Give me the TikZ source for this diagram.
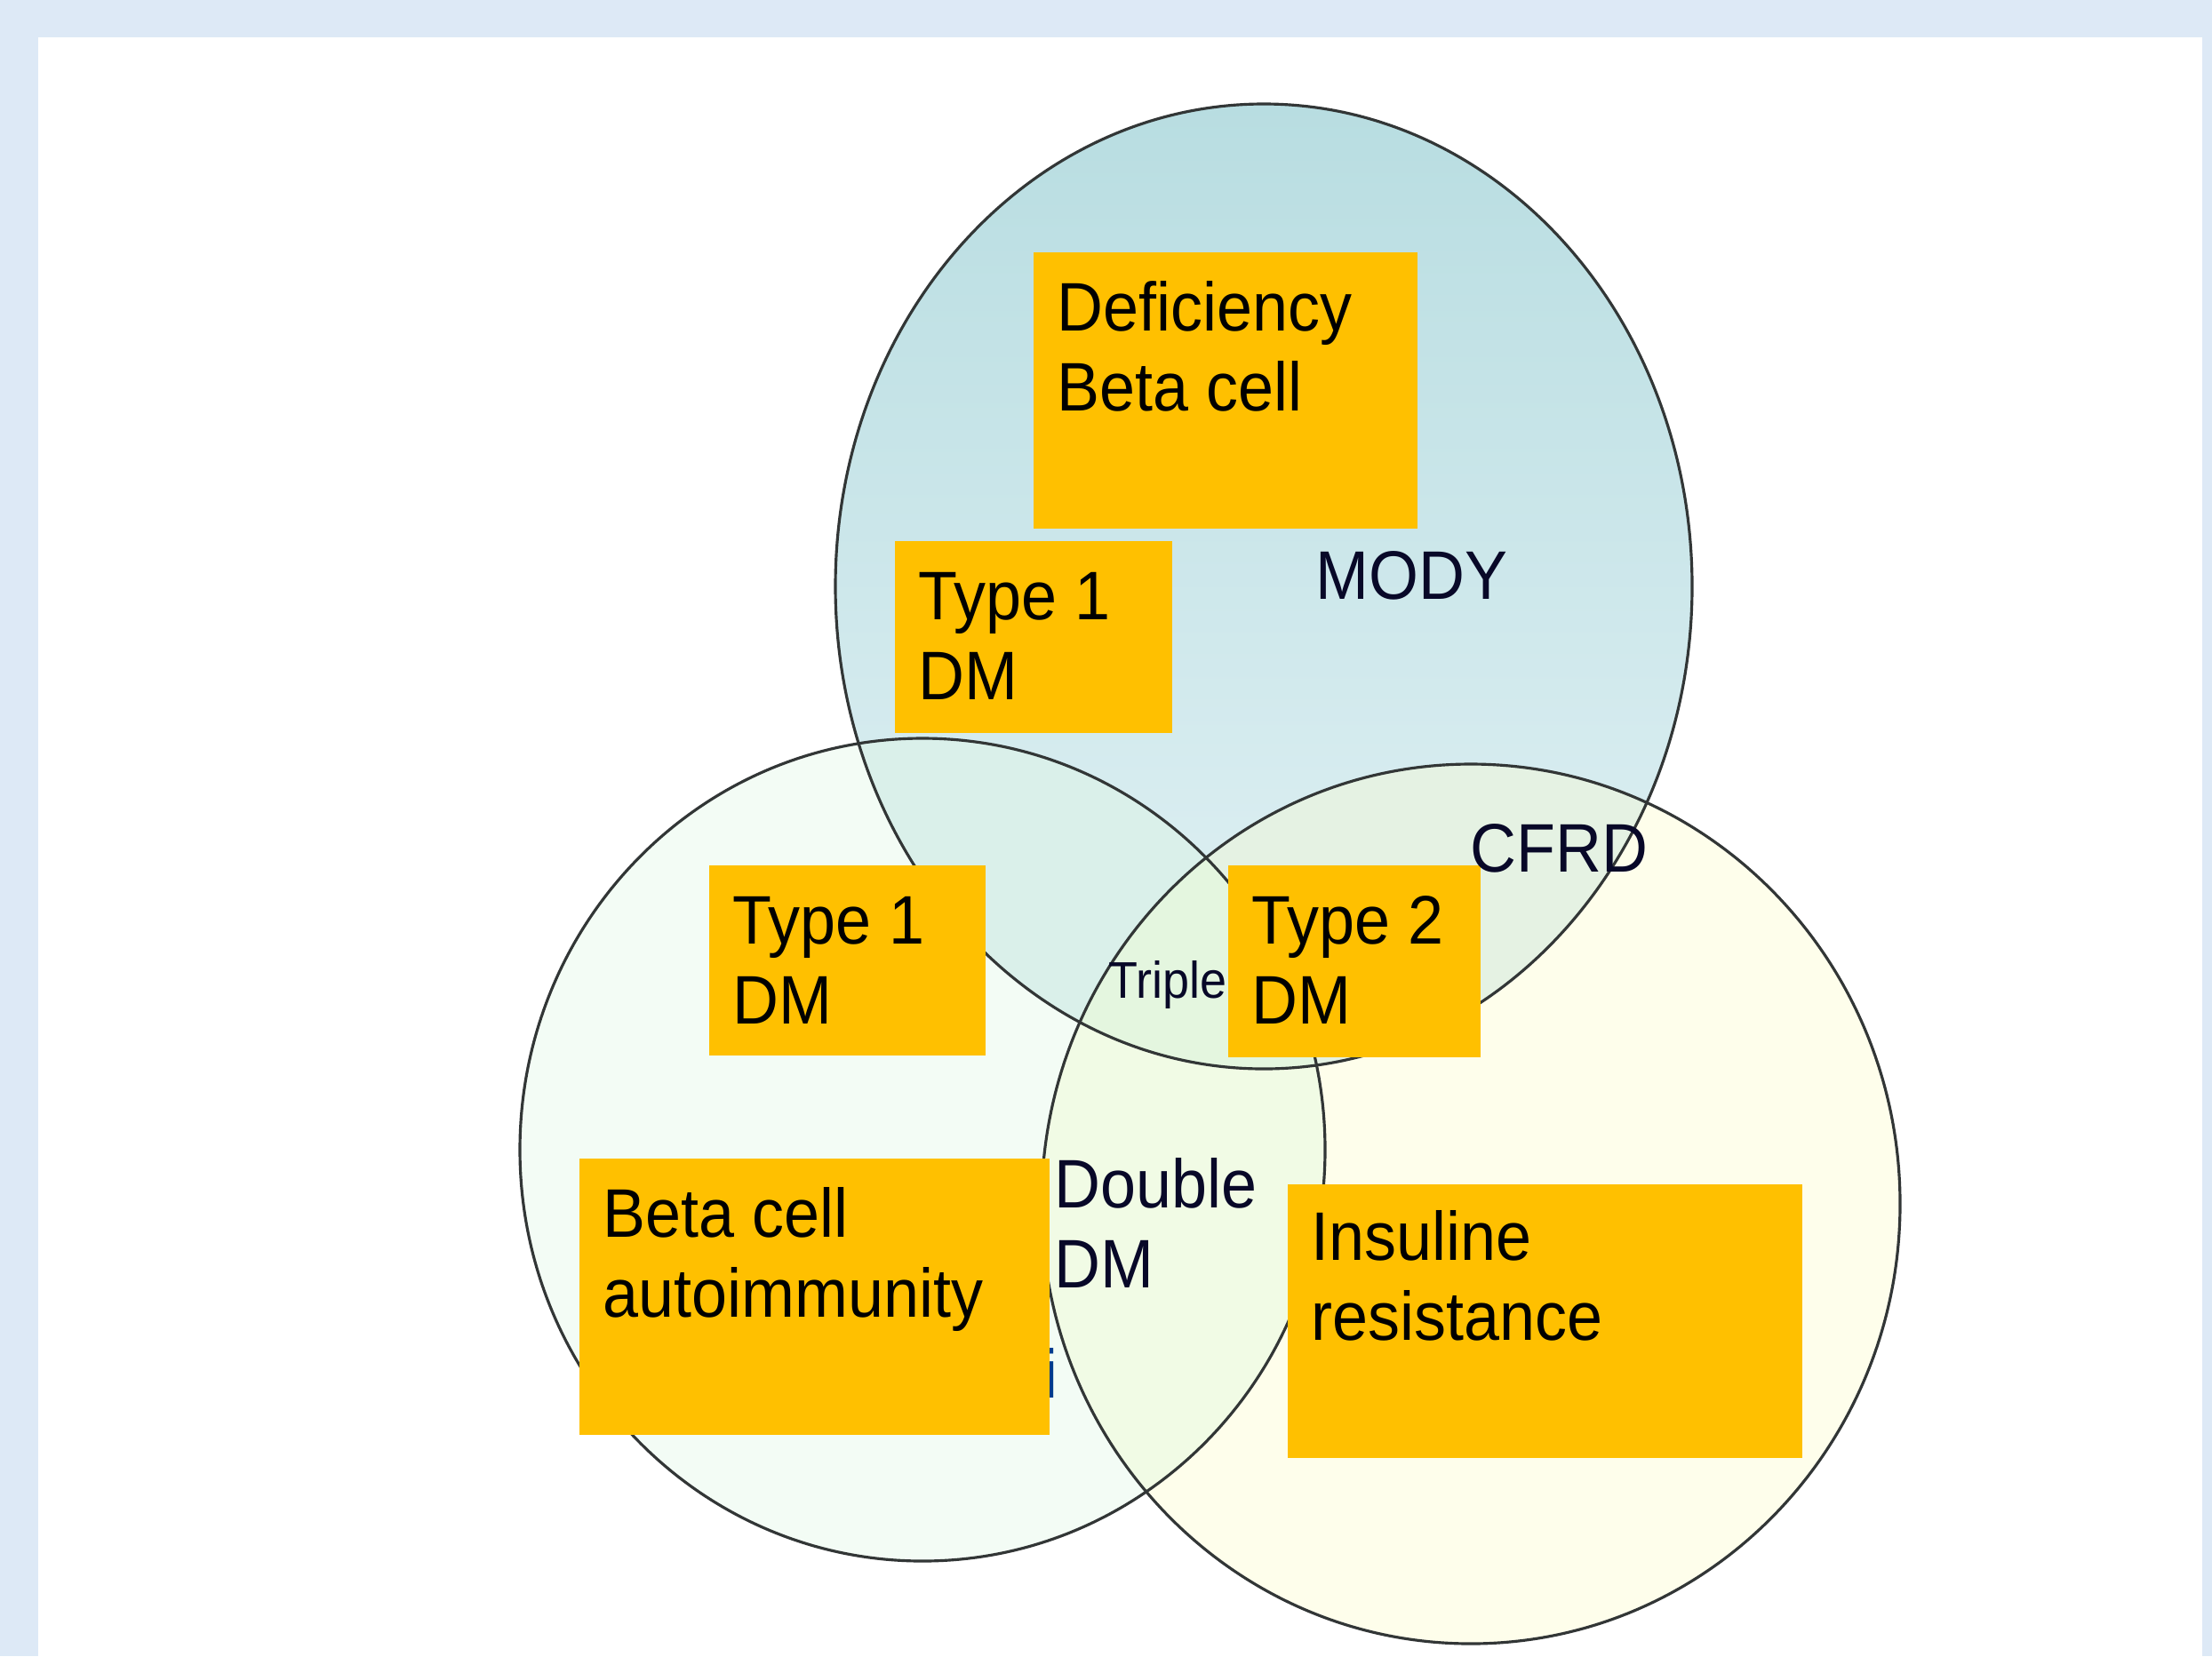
\documentclass[tikz,border=0pt]{standalone}
\usepackage{fontspec}
\setmainfont[FakeStretch=0.93]{Liberation Sans}
\usetikzlibrary{positioning}

\definecolor{pagebg}{RGB}{221,233,246}
\definecolor{boxorange}{RGB}{255,192,0}
\definecolor{topsky}{RGB}{184,221,225}
\definecolor{toplow}{RGB}{227,242,245}
\definecolor{leftmint}{RGB}{243,252,245}
\definecolor{rightcream}{RGB}{254,254,235}
\definecolor{mixTL}{RGB}{218,240,234}
\definecolor{mixTR}{RGB}{229,242,227}
\definecolor{mixLR}{RGB}{241,251,229}
\definecolor{mixall}{RGB}{228,246,223}
\definecolor{navytext}{RGB}{8,8,40}
\definecolor{ringline}{RGB}{50,54,54}
\definecolor{stray}{RGB}{0,60,140}

\tikzset{
  ring/.style={draw=ringline, line width=0.9pt},
  obox/.style={fill=boxorange, draw=none, inner sep=0pt, anchor=north west},
  lbl/.style={anchor=base west, inner sep=0pt, align=left, text=black,
    font=\fontsize{22}{25.6}\selectfont},
  freelbl/.style={lbl, text=navytext},
}

\begin{document}
\begin{tikzpicture}

  \useasboundingbox (0,0) rectangle (24.89,-18.64);
  \fill[pagebg] (0,0) rectangle (24.89,-18.64);
  \fill[white] (0.43,-0.42) rectangle (24.78,-18.64);

  \coordinate (cT) at (14.22,-6.60);
  \coordinate (cL) at (10.38,-12.94);
  \coordinate (cR) at (16.55,-13.55);
  \def\topcirc{(cT) ellipse [x radius=4.82, y radius=5.43]}
  \def\leftcirc{(cL) ellipse [x radius=4.53, y radius=4.63]}
  \def\rightcirc{(cR) ellipse [x radius=4.83, y radius=4.95]}

  % fills
  \fill[leftmint] \leftcirc;
  \fill[rightcream] \rightcirc;
  \shade[top color=topsky, bottom color=toplow] \topcirc;
  \begin{scope}
    \clip \leftcirc;
    \fill[mixLR] \rightcirc;
  \end{scope}
  \begin{scope}
    \clip \topcirc;
    \fill[mixTL] \leftcirc;
    \fill[mixTR] \rightcirc;
    \clip \leftcirc;
    \fill[mixall] \rightcirc;
  \end{scope}

  \draw[ring] \topcirc;
  \draw[ring] \leftcirc;
  \draw[ring] \rightcirc;

  \node[lbl, text=stray] (stray) at (11.74,-15.73) {i};

  \node[obox, minimum width=4.32cm, minimum height=3.11cm] (defbox) at (11.62,-2.83) {};
  \node[obox, minimum width=3.12cm, minimum height=2.16cm] (t1top) at (10.06,-6.08) {};
  \node[obox, minimum width=3.11cm, minimum height=2.14cm] (t1left) at (7.97,-9.73) {};
  \node[obox, minimum width=2.84cm, minimum height=2.16cm] (t2box) at (13.81,-9.73) {};
  \node[obox, minimum width=5.29cm, minimum height=3.11cm] (autobox) at (6.51,-13.03) {};
  \node[obox, minimum width=5.79cm, minimum height=3.08cm] (insbox) at (14.48,-13.32) {};

  % base anchor sits on the last line
  \node[lbl] (deftxt) at ([shift={(0.27,-1.79)}]defbox.north west) {Deficiency\\Beta cell};
  \node[lbl] (t1toptxt) at ([shift={(0.27,-1.79)}]t1top.north west) {Type 1\\DM};
  \node[lbl] (t1lefttxt) at ([shift={(0.27,-1.79)}]t1left.north west) {Type 1\\DM};
  \node[lbl] (t2txt) at ([shift={(0.27,-1.79)}]t2box.north west) {Type 2\\DM};
  \node[lbl] (autotxt) at ([shift={(0.27,-1.79)}]autobox.north west) {Beta cell\\autoimmunity};
  \node[lbl] (instxt) at ([shift={(0.27,-1.76)}]insbox.north west) {Insuline\\resistance};

  \node[freelbl] (mody) at (14.80,-6.74) {MODY};
  \node[freelbl] (cfrd) at (16.54,-9.81) {CFRD};
  \node[freelbl, font=\fontsize{16.5}{19}\selectfont] (triple) at (12.47,-11.23) {Triple};
  \node[freelbl] (double) at (11.86,-14.49) {Double\\DM};

\end{tikzpicture}
\end{document}
